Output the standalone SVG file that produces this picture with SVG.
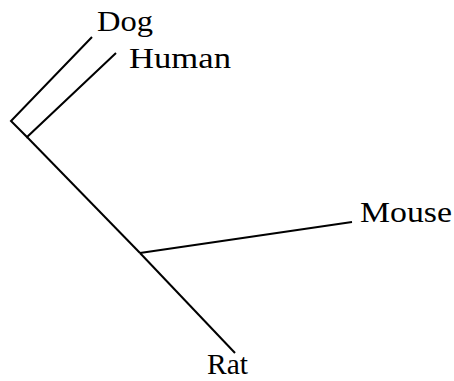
<svg xmlns="http://www.w3.org/2000/svg" width="454" height="381" viewBox="0 0 454 381">
  <style>
    .branch { stroke: #000; stroke-width: 2; fill: none; stroke-linecap: butt; }
    .label { font-family: "Liberation Serif", "Times New Roman", serif; font-size: 30px; fill: #000; }
  </style>
  <rect width="454" height="381" fill="#fff"/>
  <g id="connectors">
    <polyline class="branch" points="92,37 11,121 27,137 116,53"/>
    <line class="branch" x1="27" y1="137" x2="140" y2="253"/>
    <line class="branch" x1="140" y1="253" x2="352" y2="222"/>
    <line class="branch" x1="140" y1="253" x2="235" y2="353"/>
  </g>
  <g id="dog"><text class="label" x="97" y="31" textLength="56" lengthAdjust="spacingAndGlyphs">Dog</text></g>
  <g id="human"><text class="label" x="129" y="68" textLength="102" lengthAdjust="spacingAndGlyphs">Human</text></g>
  <g id="mouse"><text class="label" x="360" y="222" textLength="92" lengthAdjust="spacingAndGlyphs">Mouse</text></g>
  <g id="rat"><text class="label" x="207" y="374" textLength="41" lengthAdjust="spacingAndGlyphs">Rat</text></g>
</svg>
